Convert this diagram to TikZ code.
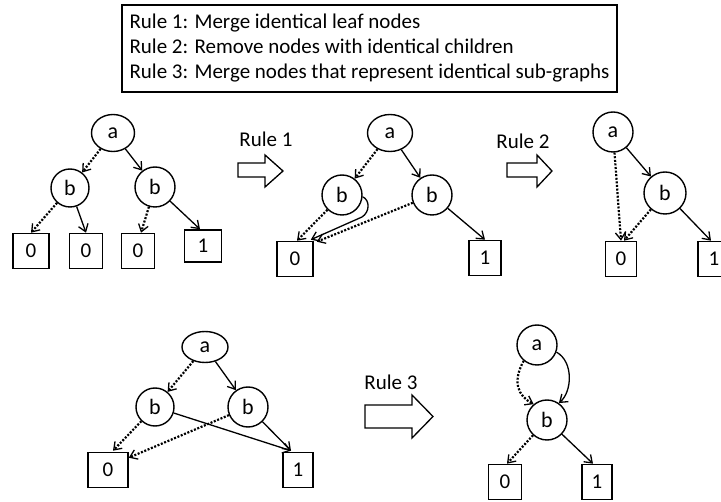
\documentclass[tikz,border=0pt]{standalone}
\usepackage{fontspec}
\setmainfont{Carlito}
\usetikzlibrary{arrows.meta,shapes.geometric,calc}
\begin{document}
\begin{tikzpicture}[x=1pt,y=-1pt,
  vtx/.style={draw, circle, line width=1.4pt, inner sep=0pt, minimum size=40pt, font=\fontsize{22}{22}\selectfont},
  evtx/.style={draw, ellipse, line width=1.4pt, inner sep=0pt, font=\fontsize{22}{22}\selectfont},
  leaf/.style={draw, rectangle, line width=1.6pt, inner sep=0pt, minimum height=35pt, font=\fontsize{21}{21}\selectfont},
  hi/.style={-{Straight Barb[length=7pt,width=10pt,line width'=1.3pt]}},
  sol/.style={line width=1.3pt, hi},
  dts/.style={line width=2.2pt, dash pattern=on 2pt off 1.6pt, hi},
  rulelbl/.style={font=\fontsize{21}{21}\selectfont, inner sep=0pt},
  blk/.style={draw, line width=1.3pt, fill=white, line join=miter}
]
\useasboundingbox (0,0) rectangle (721,502);
\fill[white] (0,0) rectangle (721,502);
\clip (0,0) rectangle (721,502);

% legend
\node[draw, line width=1.2pt, minimum width=495pt, minimum height=87pt, inner sep=0pt, align=left, font=\fontsize{21}{25}\selectfont] (legend) at (369.5,48.5) {Rule 1: Merge identical leaf nodes\\Rule 2: Remove nodes with identical children\\Rule 3: Merge nodes that represent identical sub-graphs};

% graph 1
\node[evtx, minimum width=43pt, minimum height=37pt] (a1) at (113,133) {a};
\node[vtx, minimum size=38pt] (b1l) at (70,188) {b};
\node[vtx] (b1r) at (155,187) {b};
\node[leaf, minimum width=36pt] (l1a) at (31,251) {0};
\node[leaf, minimum width=33pt] (l1b) at (86,251) {0};
\node[leaf, minimum width=33pt] (l1c) at (138,251) {0};
\node[leaf, minimum width=37pt, minimum height=32pt] (l1d) at (203,246) {1};
\draw[dts] (a1) -- (b1l);
\draw[sol] (a1) -- (b1r);
\draw[dts] (b1l) -- (l1a.north);
\draw[sol] (b1l) -- (l1b.north);
\draw[dts] (b1r) -- ($(l1c.north)+(3,0)$);
\draw[sol] (b1r) -- ($(l1d.north)+(-3,0)$);

% rule 1
\node[rulelbl] (r1) at (266,139) {Rule 1};
\draw[blk] (238,163) -- (265,163) -- (265,155) -- (283,171) -- (265,187) -- (265,177) -- (238,177) -- cycle;

% graph 2
\node[evtx, minimum width=45pt, minimum height=37pt] (a2) at (390,133) {a};
\node[vtx] (b2l) at (342,195) {b};
\node[vtx] (b2r) at (432,195) {b};
\node[leaf, minimum width=36pt] (l2a) at (295,259) {0};
\node[leaf, minimum width=32pt] (l2b) at (485,258) {1};
\draw[dts] (a2) -- (b2l);
\draw[sol] (a2) -- (b2r);
\draw[dts] (b2l) -- ($(l2a.north)+(2,0)$);
\draw[sol] (b2l.-5) .. controls (370,200) and (370,212) .. (362,217) -- ($(l2a.north east)+(-3,-1)$);
\draw[dts] (b2r) -- ($(l2a.north east)+(3,1)$);
\draw[sol] (b2r) -- (l2b.north);

% rule 2
\node[rulelbl] (r2) at (523,141) {Rule 2};
\draw[blk] (507,163) -- (537,163) -- (537,155) -- (552,171) -- (537,187) -- (537,177) -- (507,177) -- cycle;

% graph 3
\node[vtx] (a3) at (613,132) {a};
\node[vtx, minimum size=42pt] (b3) at (665,193) {b};
\node[leaf, minimum width=31pt] (l3a) at (621,259) {0};
\node[leaf, minimum width=32pt] (l3b) at (714,259) {1};
\draw[dts] (a3) -- (l3a.north);
\draw[sol] (a3) -- (b3);
\draw[dts] (b3) -- ($(l3a.north)+(3,0)$);
\draw[sol] (b3) -- ($(l3b.north)+(-3,0)$);

% graph 4
\node[evtx, minimum width=46pt, minimum height=31pt] (a4) at (205,347) {a};
\node[vtx, minimum size=38pt] (b4l) at (155,407) {b};
\node[vtx] (b4r) at (248,407) {b};
\node[leaf, minimum width=40pt] (l4a) at (108,470) {0};
\node[leaf, minimum width=30pt] (l4b) at (298,470) {1};
\draw[dts] (a4) -- (b4l);
\draw[sol] (a4) -- (b4r);
\draw[dts] (b4l) -- ($(l4a.north)+(5,-1)$);
\draw[sol] (b4l) -- ($(l4b.north)+(-7,-1)$);
\draw[dts] (b4r) -- ($(l4a.north east)+(0,6)$);
\draw[sol] (b4r) -- ($(l4b.north)+(-7,-1)$);

% rule 3
\node[rulelbl] (r3) at (391,382) {Rule 3};
\draw[blk] (365,405) -- (412,405) -- (412,395) -- (433,416.5) -- (412,438) -- (412,428) -- (365,428) -- cycle;

% graph 5
\node[vtx] (a5) at (537,345) {a};
\node[vtx] (b5) at (547,420) {b};
\node[leaf, minimum width=33pt] (l5a) at (505,482) {0};
\node[leaf, minimum width=30pt] (l5b) at (597,482) {1};
\draw[dts] (a5.230) .. controls (512,382) and (518,396) .. (b5.130);
\draw[sol] (a5.-20) .. controls (574,362) and (572,392) .. (b5.55);
\draw[dts] (b5) -- ($(l5a.north)+(2,0)$);
\draw[sol] (b5) -- ($(l5b.north)+(-4,0)$);
\end{tikzpicture}
\end{document}
